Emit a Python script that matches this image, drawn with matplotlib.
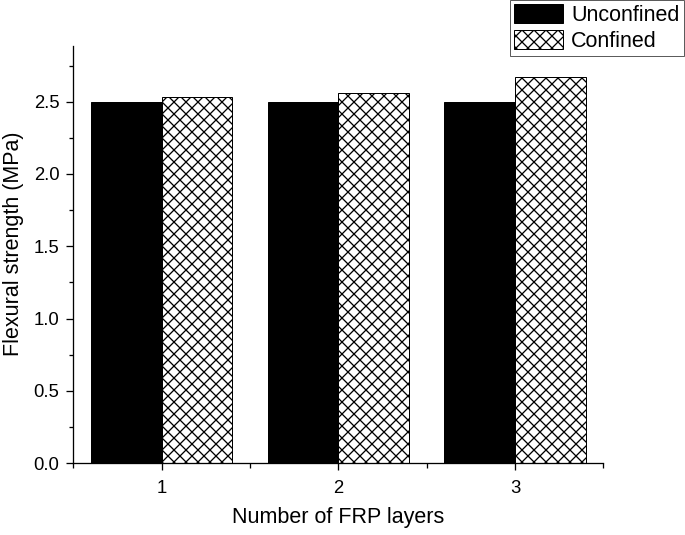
import matplotlib
matplotlib.use("Agg")
import matplotlib.pyplot as plt
import numpy as np
from matplotlib.ticker import MultipleLocator, FixedLocator

layers = [1, 2, 3]
unconfined = [2.50, 2.50, 2.50]
confined = [2.53, 2.56, 2.67]
series_labels = ["Unconfined", "Confined"]
x_label = "Number of FRP layers"
y_label = "Flexural strength (MPa)"

plt.rcParams['font.family'] = ['Liberation Sans', 'DejaVu Sans']
plt.rcParams['hatch.linewidth'] = 1.3
plt.rcParams['hatch.color'] = 'black'

DPI = 72
fig = plt.figure(figsize=(685 / DPI, 535 / DPI), dpi=DPI)
ax = fig.add_axes([73.3 / 685, 71.8 / 535, 530 / 685, 417.5 / 535])

x = np.array(layers, dtype=float)
w = 0.4
ax.bar(x - w / 2, unconfined, width=w, color='black', edgecolor='black',
       linewidth=1.0, label=series_labels[0])
ax.bar(x + w / 2, confined, width=w, color='white', edgecolor='black',
       linewidth=1.0, hatch='xx', label=series_labels[1])

ax.set_xlim(0.5, 3.5)
ax.set_ylim(0, 2.887)
ax.set_xticks(layers)
ax.xaxis.set_minor_locator(FixedLocator([0.5, 1.5, 2.5, 3.5]))
ax.yaxis.set_major_locator(MultipleLocator(0.5))
ax.yaxis.set_minor_locator(MultipleLocator(0.25))
ax.yaxis.set_major_formatter(matplotlib.ticker.FormatStrFormatter('%.1f'))

for s in ['top', 'right']:
    ax.spines[s].set_visible(False)
for s in ['left', 'bottom']:
    ax.spines[s].set_linewidth(1.3)
ax.spines['bottom'].set_zorder(5)

ax.tick_params(which='major', direction='out', length=7, width=1.3,
               labelsize=18.5, pad=7)
ax.tick_params(axis='x', which='major', pad=10)
ax.tick_params(which='minor', direction='out', length=4.5, width=1.3)

ax.set_xlabel(x_label, fontsize=21.5)
ax.xaxis.set_label_coords(0.5, -0.105)
ax.set_ylabel(y_label, fontsize=21.5)
ax.yaxis.set_label_coords(-0.093, 0.525)

leg = fig.legend(loc='upper right', bbox_to_anchor=(684 / 685, 1.0),
                 fontsize=21.5, frameon=True, fancybox=False,
                 handlelength=2.25, handleheight=0.95, handletextpad=0.4,
                 borderpad=0.2, labelspacing=0.2, borderaxespad=0)
leg.get_frame().set_edgecolor('#333333')
leg.get_frame().set_linewidth(1.0)

fig.savefig("out.png", dpi=DPI)
